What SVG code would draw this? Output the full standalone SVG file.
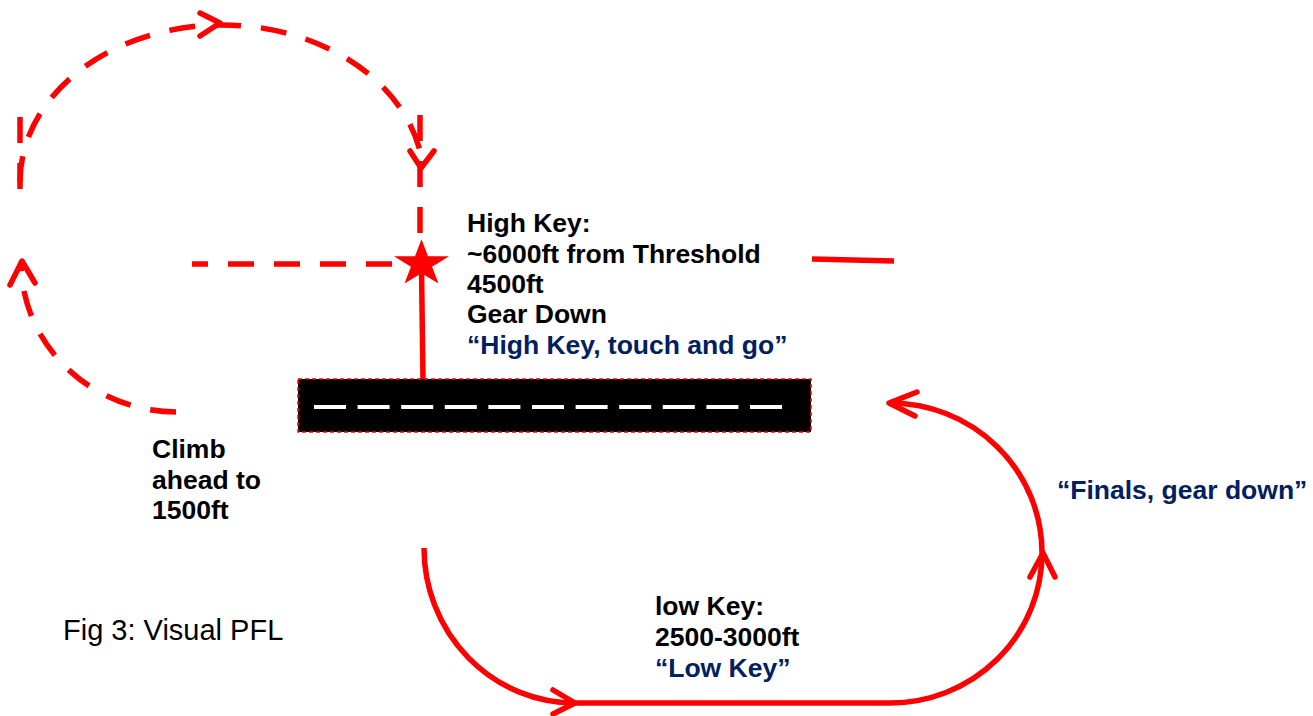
<svg xmlns="http://www.w3.org/2000/svg" width="1313" height="716" viewBox="0 0 1313 716">
<style>
.dash{fill:none;stroke:#ff0000;stroke-width:5.5;stroke-dasharray:26 20}
.solid{fill:none;stroke:#ff0000;stroke-width:5.5}
.head{fill:none;stroke:#ff0000;stroke-width:5.5;stroke-linecap:round;stroke-linejoin:round}
.t{font-family:"Liberation Sans",Arial,sans-serif;font-size:26.5px;font-weight:bold;fill:#000}
.q{fill:#002060}
.cap{font-family:"Liberation Sans",Arial,sans-serif;font-size:29px;fill:#000}
</style>
<rect width="1313" height="716" fill="#fff"/>
<g id="connectors">
  <path class="dash" d="M20,182 A202 157 0 0 1 421,155"/>
  <path class="dash" d="M20,117 L20,190"/>
  <path class="dash" d="M420,115 L420,240"/>
  <path class="dash" d="M392,264 L192,264"/>
  <path class="dash" d="M176,412 A156 150 0 0 1 21,262"/>
  <polyline class="head" points="200,13 220,23 200,36"/>
  <polyline class="head" points="410,151 421,168 434,151"/>
  <polyline class="head" points="10,285 22,261 35,283"/>
  <path class="solid" d="M421.5,268 L423,380"/>
  <path class="solid" d="M424,548 A151 155 0 0 0 575,703 L890,703 A152 150 0 0 0 1042,553 A152 150 0 0 0 890,403"/>
  <polyline class="head" points="553,690 575,703 553,714"/>
  <polyline class="head" points="1030,577 1043,553 1055,577"/>
  <polyline class="head" points="917,392 889,403 915,416"/>
  <path class="solid" d="M812,259 L894,261" stroke-width="6"/>
</g>
<g id="star">
  <polygon fill="#ff0000" points="421.5,239.3 428,256.2 449.1,256.2 432.1,266.7 438.5,283.6 421.5,273.2 404.5,283.6 410.9,266.7 393.9,256.2 415,256.2"/>
</g>
<g id="runway">
  <rect x="298" y="379" width="513" height="53" fill="#000" stroke="#ff0000" stroke-width="1.5" stroke-dasharray="4 3"/>
  <line x1="314" y1="407" x2="786" y2="407" stroke="#fff" stroke-width="4" stroke-dasharray="32 11.6"/>
</g>
<g id="high-key">
  <text class="t" x="467" y="232">High Key:</text>
  <text class="t" x="467" y="262.5">~6000ft from Threshold</text>
  <text class="t" x="467" y="293">4500ft</text>
  <text class="t" x="467" y="323">Gear Down</text>
  <text class="t q" x="467" y="353.5">“High Key, touch and go”</text>
</g>
<g id="climb">
  <text class="t" x="152" y="458">Climb</text>
  <text class="t" x="152" y="489">ahead to</text>
  <text class="t" x="152" y="519">1500ft</text>
</g>
<g id="low-key">
  <text class="t" x="655" y="615">low Key:</text>
  <text class="t" x="655" y="646">2500-3000ft</text>
  <text class="t q" x="655" y="677">“Low Key”</text>
</g>
<g id="finals">
  <text class="t q" x="1057" y="499">“Finals, gear down”</text>
</g>
<g id="caption">
  <text class="cap" x="63" y="640">Fig 3: Visual PFL</text>
</g>
</svg>
